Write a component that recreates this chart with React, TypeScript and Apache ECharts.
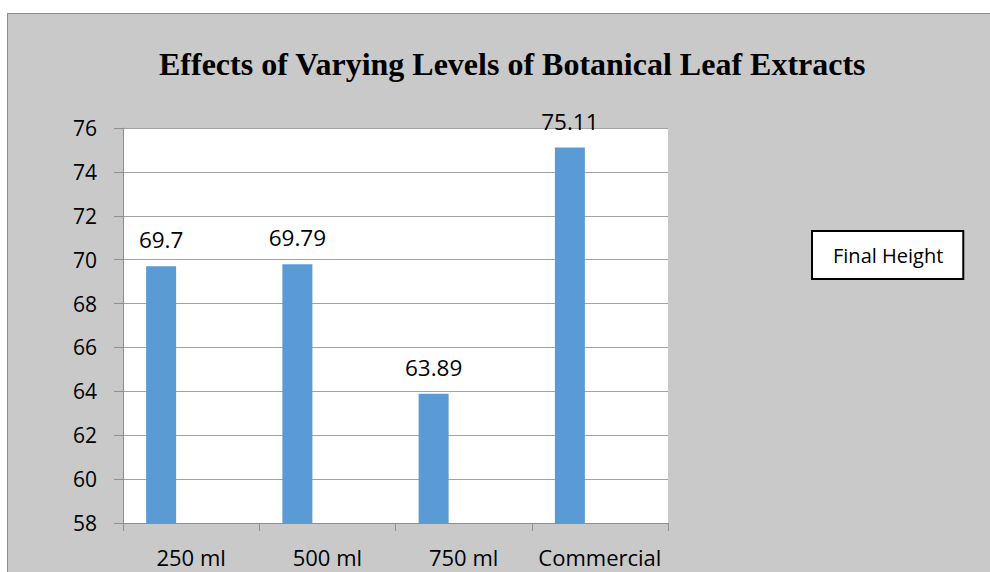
import React, { useEffect, useRef } from "react";
import * as echarts from "echarts";

const categories = ["250 ml", "500 ml", "750 ml", "Commercial"];
const finalHeight = [69.7, 69.79, 63.89, 75.11];
const yTicks = { min: 58, max: 76, step: 2 };
const titleText = "Effects of Varying Levels of Botanical Leaf Extracts";
const seriesName = "Final Height";

const SANS = "'Open Sans', 'Noto Sans', sans-serif";

export default function App() {
  const ref = useRef<HTMLDivElement>(null);

  useEffect(() => {
    if (!ref.current) return;
    const chart = echarts.init(ref.current, undefined, { renderer: "svg" });
    chart.setOption({
      animation: false,
      backgroundColor: "transparent",
      title: {
        text: titleText,
        left: 159,
        top: 48,
        padding: 0,
        textStyle: {
          fontFamily: "'Liberation Serif', 'Times New Roman', serif",
          fontWeight: "bold",
          fontSize: 32,
          color: "#000",
        },
      },
      legend: {
        data: [seriesName],
        left: 812,
        top: 231,
        orient: "vertical",
        icon: "none",
        itemWidth: 0,
        itemHeight: 0,
        itemGap: 0,
        padding: [12, 20, 12, 16],
        backgroundColor: "#fff",
        borderColor: "#000",
        borderWidth: 2,
        borderRadius: 0,
        selectedMode: false,
        textStyle: { fontFamily: SANS, fontSize: 20, color: "#000", lineHeight: 24 },
      },
      grid: {
        left: 123,
        right: 322,
        top: 128,
        bottom: 49,
        show: true,
        backgroundColor: "#fff",
        borderWidth: 0,
      },
      xAxis: {
        type: "category",
        data: categories,
        boundaryGap: true,
        axisLine: { show: true, lineStyle: { color: "#8f8f8f", width: 1 } },
        axisTick: { show: true, length: 8, alignWithLabel: false, lineStyle: { color: "#8f8f8f" } },
        axisLabel: { interval: 0, fontFamily: SANS, fontSize: 22, color: "#000", margin: 23 },
        splitLine: { show: false },
      },
      yAxis: {
        type: "value",
        min: yTicks.min,
        max: yTicks.max,
        interval: yTicks.step,
        axisLine: { show: true, lineStyle: { color: "#8f8f8f", width: 1 } },
        axisTick: { show: true, inside: false, length: 9, lineStyle: { color: "#8f8f8f" } },
        axisLabel: { fontFamily: SANS, fontSize: 21, color: "#000", margin: 26 },
        splitLine: { show: true, lineStyle: { color: "#a3a3a3", width: 1 } },
      },
      series: [
        {
          name: seriesName,
          type: "bar",
          data: finalHeight,
          barWidth: 30,
          barGap: "100%",
          itemStyle: { color: "#5b9bd5" },
          label: {
            show: true,
            position: "top",
            distance: 15,
            fontFamily: SANS,
            fontSize: 22.5,
            color: "#000",
          },
        },
        {
          name: " ",
          type: "bar",
          data: [],
          barWidth: 30,
          barGap: "100%",
          itemStyle: { color: "transparent" },
        },
      ],
    });
    return () => chart.dispose();
  }, []);

  return (
    <div style={{ position: "fixed", left: 0, top: 0, width: 990, height: 572, overflow: "hidden", background: "#fff" }}>
      <div
        style={{
          position: "absolute",
          left: 7,
          top: 13,
          width: 1000,
          height: 600,
          background: "#c9c9c9",
          border: "1.5px solid #8d8d8d",
          boxSizing: "border-box",
        }}
      />
      <div ref={ref} style={{ position: "absolute", left: 0, top: 0, width: 990, height: 572 }} />
    </div>
  );
}
